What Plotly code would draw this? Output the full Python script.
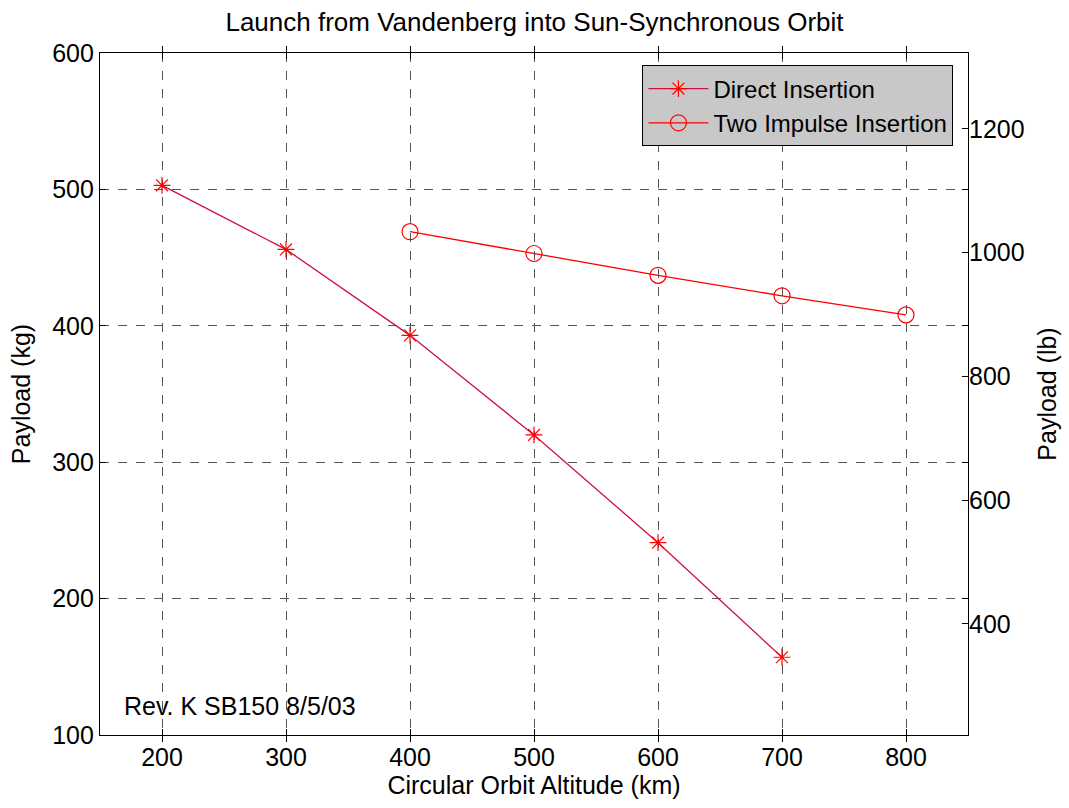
import plotly.graph_objects as go

# Payload vs. circular orbit altitude (SB150, Vandenberg sun-synchronous launch)
altitude_direct = [200, 300, 400, 500, 600, 700]
payload_direct = [503, 456, 393, 320, 241, 157]

altitude_two_impulse = [400, 500, 600, 700, 800]
payload_two_impulse = [469, 453, 437, 422, 408]

x_ticks = [200, 300, 400, 500, 600, 700, 800]
kg_ticks = [100, 200, 300, 400, 500, 600]
lb_ticks = [400, 600, 800, 1000, 1200]

KG_PER_LB = 0.45359237
kg_range = [100, 600]
lb_range = [kg_range[0] / KG_PER_LB, kg_range[1] / KG_PER_LB]

FONT = "Liberation Sans, Arial, sans-serif"
FS = 25

fig = go.Figure()

fig.add_trace(go.Scatter(
    x=altitude_direct, y=payload_direct, name="Direct Insertion",
    mode="lines+markers",
    line=dict(color="#cc1144", width=1.3),
    marker=dict(symbol="asterisk-open", size=14, color="red",
                line=dict(color="red", width=1.2)),
))
fig.add_trace(go.Scatter(
    x=altitude_two_impulse, y=payload_two_impulse, name="Two Impulse Insertion",
    mode="lines+markers",
    line=dict(color="red", width=1.3),
    marker=dict(symbol="circle-open", size=16, color="red",
                line=dict(color="red", width=1.2)),
))
# invisible trace to activate the pound axis
fig.add_trace(go.Scatter(
    x=[altitude_direct[0]], y=[payload_direct[0] / KG_PER_LB], yaxis="y2",
    mode="markers", marker=dict(opacity=0), showlegend=False, hoverinfo="skip",
))

fig.update_layout(
    width=1069, height=808,
    margin=dict(l=100, r=101, t=53, b=73),
    paper_bgcolor="white", plot_bgcolor="white",
    font=dict(family=FONT, color="black", size=FS),
    title=dict(text="Launch from Vandenberg into Sun-Synchronous Orbit",
               x=0.5, xanchor="center", y=0.973, yanchor="middle",
               font=dict(size=26)),
    xaxis=dict(
        range=[150, 850], tickvals=x_ticks, ticks="inside", ticklen=6,
        tickcolor="black", showline=True, linecolor="black", linewidth=1.2,
        mirror="allticks", showgrid=True, gridcolor="#555555",
        griddash="dash", gridwidth=1, zeroline=False,
        title=dict(text="Circular Orbit Altitude (km)", font=dict(size=FS), standoff=6),
        tickfont=dict(size=FS),
    ),
    yaxis=dict(
        range=kg_range, tickvals=kg_ticks, ticks="inside", ticklen=6,
        tickcolor="black", showline=True, linecolor="black", linewidth=1.2,
        mirror="allticks", showgrid=True, gridcolor="#555555",
        griddash="dash", gridwidth=1, zeroline=False,
        title=dict(text="Payload (kg)", font=dict(size=FS), standoff=14),
        tickfont=dict(size=FS),
    ),
    yaxis2=dict(
        range=lb_range, tickvals=lb_ticks, overlaying="y", side="right",
        ticks="inside", ticklen=6, tickcolor="black", showgrid=False,
        zeroline=False, showline=False,
        title=dict(text="Payload (lb)", font=dict(size=FS), standoff=14),
        tickfont=dict(size=FS),
    ),
    legend=dict(
        x=0.983, xanchor="right", y=0.982, yanchor="top",
        bgcolor="#c8c8c8", bordercolor="black", borderwidth=1.2,
        font=dict(size=24), itemwidth=60, tracegroupgap=0,
    ),
    annotations=[dict(
        text="Rev. K SB150 8/5/03", xref="paper", yref="paper",
        x=0.025, y=0.0425, xanchor="left", yanchor="middle",
        showarrow=False, font=dict(size=FS),
    )],
)

fig.write_html("out.html")
